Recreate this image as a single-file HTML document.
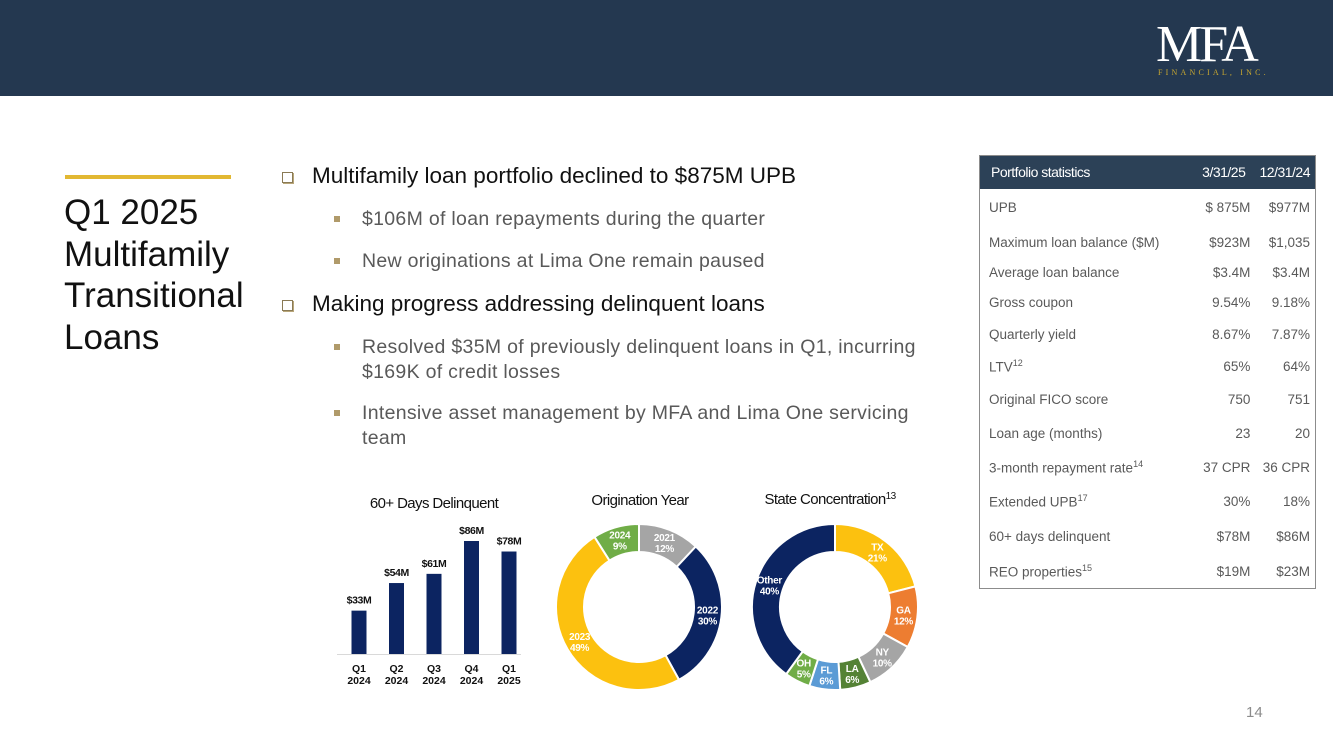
<!DOCTYPE html>
<html><head><meta charset="utf-8"><style>
*{margin:0;padding:0;box-sizing:border-box}
body{width:1333px;height:749px;position:relative;background:#fff;font-family:"Liberation Sans",sans-serif;overflow:hidden}
.abs{position:absolute;white-space:nowrap}
.hdr{position:absolute;left:0;top:0;width:1333px;height:96px;background:#243850}
.b1{font-size:22.5px;color:#111;letter-spacing:0px}
.b2{font-size:19.5px;color:#595959;letter-spacing:0.3px;line-height:25px}
.m1{position:absolute;width:11px;height:11px;border:1.5px solid #8a7a55;background:#fff;box-shadow:1px 1px 0 #b9a77a}
.m2{position:absolute;width:6px;height:6px;background:#b09a6a}
table{position:absolute;left:979px;top:155px;width:337px;border-collapse:collapse;border:1px solid #8c8c8c;font-size:13.5px;color:#595959}
td{padding:0 5px 0 9px;white-space:nowrap}
td.v{text-align:right;padding:0 0 0 0}
td.v2{text-align:right;padding:0 5px 0 0}
th{background:#2c4157;color:#fff;font-weight:normal;font-size:14px;height:33px;letter-spacing:-0.5px;text-align:right;padding:0 5px 0 0}
th.l{text-align:left;padding-left:11px}
sup{font-size:9px}
</style></head><body>
<div class="hdr"></div>
<div class="abs" style="left:1156px;top:20px;color:#fff;font-family:'Liberation Serif',serif;font-size:52px;line-height:50px;letter-spacing:-3px">MFA</div>
<div class="abs" style="left:1158px;top:68px;color:#c9a830;font-family:'Liberation Serif',serif;font-size:8px;letter-spacing:3.2px">FINANCIAL, INC.</div>

<div class="abs" style="left:65px;top:175px;width:166px;height:4px;background:#e2b832"></div>
<div class="abs" style="left:64px;top:192px;font-size:35px;line-height:41.5px;color:#111;white-space:normal;width:200px">Q1 2025 Multifamily Transitional Loans</div>

<div class="m1" style="left:282px;top:172px"></div>
<div class="abs b1" style="left:312px;top:163px">Multifamily loan portfolio declined to $875M UPB</div>
<div class="m2" style="left:334px;top:216px"></div>
<div class="abs b2" style="left:362px;top:207px">$106M of loan repayments during the quarter</div>
<div class="m2" style="left:334px;top:258px"></div>
<div class="abs b2" style="left:362px;top:249px">New originations at Lima One remain paused</div>
<div class="m1" style="left:282px;top:300px"></div>
<div class="abs b1" style="left:312px;top:291px">Making progress addressing delinquent loans</div>
<div class="m2" style="left:334px;top:344px"></div>
<div class="abs b2" style="left:362px;top:335px">Resolved $35M of previously delinquent loans in Q1, incurring<br>$169K of credit losses</div>
<div class="m2" style="left:334px;top:410px"></div>
<div class="abs b2" style="left:362px;top:401px">Intensive asset management by MFA and Lima One servicing<br>team</div>

<table>
<tr><th class="l">Portfolio statistics</th><th>3/31/25</th><th>12/31/24</th></tr>
<tr style="height:38px"><td>UPB</td><td class="v">$ 875M</td><td class="v2">$977M</td></tr>
<tr style="height:31px"><td>Maximum loan balance ($M)</td><td class="v">$923M</td><td class="v2">$1,035</td></tr>
<tr style="height:30px"><td>Average loan balance</td><td class="v">$3.4M</td><td class="v2">$3.4M</td></tr>
<tr style="height:30px"><td>Gross coupon</td><td class="v">9.54%</td><td class="v2">9.18%</td></tr>
<tr style="height:33px"><td>Quarterly yield</td><td class="v">8.67%</td><td class="v2">7.87%</td></tr>
<tr style="height:32px"><td>LTV<sup>12</sup></td><td class="v">65%</td><td class="v2">64%</td></tr>
<tr style="height:34px"><td>Original FICO score</td><td class="v">750</td><td class="v2">751</td></tr>
<tr style="height:34px"><td>Loan age (months)</td><td class="v">23</td><td class="v2">20</td></tr>
<tr style="height:34px"><td>3-month repayment rate<sup>14</sup></td><td class="v">37 CPR</td><td class="v2">36 CPR</td></tr>
<tr style="height:34px"><td>Extended UPB<sup>17</sup></td><td class="v">30%</td><td class="v2">18%</td></tr>
<tr style="height:36px"><td>60+ days delinquent</td><td class="v">$78M</td><td class="v2">$86M</td></tr>
<tr style="height:34px"><td>REO properties<sup>15</sup></td><td class="v">$19M</td><td class="v2">$23M</td></tr>
</table>

<div class="abs" style="left:1246px;top:704px;font-size:15px;color:#8c8c8c">14</div>

<svg id="charts" width="1333" height="749" style="position:absolute;left:0;top:0" font-family="Liberation Sans, sans-serif">
<text x="434" y="508" text-anchor="middle" font-size="15" letter-spacing="-0.6" fill="#111">60+ Days Delinquent</text>
<text x="640" y="505" text-anchor="middle" font-size="15" letter-spacing="-0.6" fill="#111">Origination Year</text>
<text x="830" y="504" text-anchor="middle" font-size="15" letter-spacing="-0.6" fill="#111">State Concentration<tspan font-size="10" dy="-5">13</tspan></text>
<line x1="337" y1="654.5" x2="521" y2="654.5" stroke="#d9d9d9" stroke-width="1"/>
</svg>
<script>
const barCats=["Q1|2024","Q2|2024","Q3|2024","Q4|2024","Q1|2025"];
const barVals=[33,54,61,86,78];
const barLabels=["$33M","$54M","$61M","$86M","$78M"];
const origCats=["2021","2022","2023","2024"];
const origVals=[12,30,49,9];
const origColors=["#a5a5a5","#0c2461","#fcc10f","#70ad47"];
const stateCats=["TX","GA","NY","LA","FL","OH","Other"];
const stateVals=[21,12,10,6,6,5,40];
const stateColors=["#fcc10f","#ed7d31","#a5a5a5","#548235","#5b9bd5","#70ad47","#0c2461"];

const NS="http://www.w3.org/2000/svg";
const svg=document.getElementById('charts');
function mk(t,a){const e=document.createElementNS(NS,t);for(const k in a)e.setAttribute(k,a[k]);svg.appendChild(e);return e;}
const base=654, scale=113/86;
const xPos=i=>359+i*37.5;
const yPos=v=>base-v*scale;
barVals.forEach((v,i)=>{
  const r=mk('rect',{x:xPos(i)-7.5,y:yPos(v),width:15,height:base-yPos(v),fill:'#0c2461'});
  
  
  const t=mk('text',{x:xPos(i),y:yPos(v)-7,'text-anchor':'middle','font-size':10.5,'font-weight':'bold',fill:'#111','letter-spacing':-0.4});
  t.textContent=barLabels[i];
  
  
  const [a,b]=barCats[i].split('|');
  const t1=mk('text',{x:xPos(i),y:672,'text-anchor':'middle','font-size':10.5,'font-weight':'bold',fill:'#111'});t1.textContent=a;
  
  
  const t2=mk('text',{x:xPos(i),y:684,'text-anchor':'middle','font-size':10.5,'font-weight':'bold',fill:'#111'});t2.textContent=b;
  
  
});
function donut(cx,cy,R,r,cats,vals,colors,prefix){
  const tot=vals.reduce((a,b)=>a+b,0);let ang=0;
  vals.forEach((v,i)=>{
    const a0=ang/tot*2*Math.PI-Math.PI/2; ang+=v; const a1=ang/tot*2*Math.PI-Math.PI/2;
    const lg=(a1-a0)>Math.PI?1:0;
    const p=(rr,a)=>[cx+rr*Math.cos(a),cy+rr*Math.sin(a)];
    const [x0,y0]=p(R,a0),[x1,y1]=p(R,a1),[x2,y2]=p(r,a1),[x3,y3]=p(r,a0);
    const path=mk('path',{d:`M${x0},${y0}A${R},${R} 0 ${lg} 1 ${x1},${y1}L${x2},${y2}A${r},${r} 0 ${lg} 0 ${x3},${y3}Z`,fill:colors[i],stroke:'#fff','stroke-width':2});
    
    
    const am=(a0+a1)/2, lr=(R+r)/2;
    const lx=cx+lr*Math.cos(am), ly=cy+lr*Math.sin(am);
    const t=mk('text',{x:lx,y:ly-2,'text-anchor':'middle','font-size':10,'font-weight':'bold',fill:'#fff','letter-spacing':-0.3});
    t.textContent=cats[i];
    
    
    const t2=mk('text',{x:lx,y:ly+9,'text-anchor':'middle','font-size':10,'font-weight':'bold',fill:'#fff','letter-spacing':-0.3});
    t2.textContent=v+'%';
    
    
  });
}
donut(639,607,83,55,origCats,origVals,origColors,'origination');
donut(835,607,83,55,stateCats,stateVals,stateColors,'state');
</script>
</body></html>
